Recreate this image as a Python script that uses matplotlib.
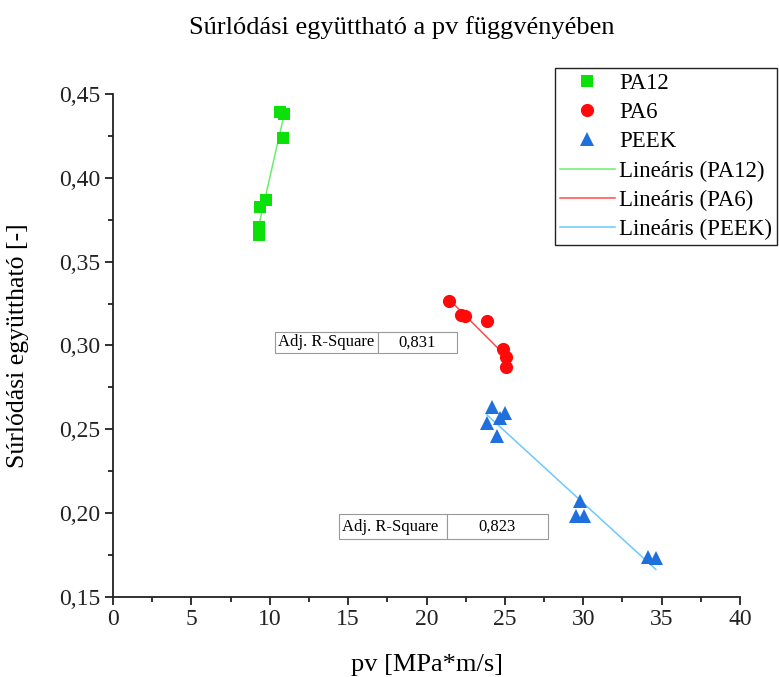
import numpy as np
import matplotlib
matplotlib.use("Agg")
import matplotlib.pyplot as plt
from matplotlib.ticker import FuncFormatter, MultipleLocator

plt.rcParams['font.family'] = ['Liberation Serif', 'DejaVu Serif']

# pv [MPa*m/s] and friction coefficient for each material
pa12_pv = [10.65, 10.91, 10.84, 9.76, 9.38, 9.31, 9.31]
pa12_mu = [0.4393, 0.4381, 0.4238, 0.3869, 0.3827, 0.3708, 0.3661]

pa6_pv = [21.43, 22.19, 22.45, 23.85, 24.87, 25.06, 25.06]
pa6_mu = [0.3268, 0.3179, 0.3173, 0.3143, 0.2976, 0.2929, 0.2869]

peek_pv = [24.17, 25.00, 24.68, 23.85, 24.49, 29.78, 29.53, 30.04, 34.12, 34.63]
peek_mu = [0.2631, 0.2595, 0.2565, 0.2536, 0.2458, 0.2071, 0.1982, 0.1982, 0.1738, 0.1732]

r2_labels = {"PA6": "0,831", "PEEK": "0,823"}

fig = plt.figure(figsize=(7.79, 6.77), dpi=100)
ax = fig.add_axes([0.1451, 0.1182, 0.8049, 0.7430])

series = [
    ("PA12", pa12_pv, pa12_mu, dict(marker="s", color="#0BE00B", ms=8), "#6BEE6B"),
    ("PA6", pa6_pv, pa6_mu, dict(marker="o", color="#FF0A0A", ms=9.5), "#FF4A4A"),
    ("PEEK", peek_pv, peek_mu, dict(marker="^", color="#1F6FDD", ms=10), "#6CC8FF"),
]

marker_handles = []
line_handles = []
for name, xs, ys, mstyle, lcolor in series:
    x = np.array(xs)
    y = np.array(ys)
    h, = ax.plot(x, y, linestyle="none", marker=mstyle["marker"],
                 color=mstyle["color"], markersize=mstyle["ms"],
                 markeredgewidth=0, label=name, zorder=3)
    marker_handles.append(h)
    k, b = np.polyfit(x, y, 1)
    xf = np.array([x.min(), x.max()])
    lh, = ax.plot(xf, k * xf + b, color=lcolor, lw=1.1,
                  label=f"Lineáris ({name})", zorder=2)
    line_handles.append(lh)

ax.set_xlim(0, 40)
ax.set_ylim(0.15, 0.45)
ax.xaxis.set_major_locator(MultipleLocator(5))
ax.xaxis.set_minor_locator(MultipleLocator(2.5))
ax.yaxis.set_major_locator(MultipleLocator(0.05))
ax.yaxis.set_minor_locator(MultipleLocator(0.025))
ax.xaxis.set_major_formatter(FuncFormatter(lambda v, p: f"{v:g}"))
ax.yaxis.set_major_formatter(FuncFormatter(lambda v, p: f"{v:.2f}".replace(".", ",")))

for s in ("top", "right"):
    ax.spines[s].set_visible(False)
for s in ("left", "bottom"):
    ax.spines[s].set_linewidth(1.3)
    ax.spines[s].set_color("#222222")
ax.tick_params(which="major", direction="out", length=6, width=1.3,
               labelsize=17, colors="#222222", pad=3)
ax.tick_params(which="minor", direction="out", length=3.5, width=1.3, colors="#222222")

ax.set_xlabel("pv [MPa*m/s]", fontsize=19, labelpad=17)
ax.set_ylabel("Súrlódási együttható [-]", fontsize=18.5, labelpad=22)
fig.text(402 / 779, 1 - 28 / 677, "Súrlódási együttható a pv függvényében",
         ha="center", va="center", fontsize=19)

leg = fig.legend(handles=marker_handles + line_handles,
                 loc="upper left", bbox_to_anchor=(555 / 779, 1 - 68 / 677),
                 fontsize=16.5, frameon=True, fancybox=False, framealpha=1,
                 edgecolor="#222222", handlelength=2.4, handletextpad=0.2,
                 labelspacing=0.36, borderpad=0.2, borderaxespad=0)
leg.get_frame().set_linewidth(1.0)

# Adjusted R-square boxes
def r2_box(value, bbox, col_split):
    tb = ax.table(cellText=[["Adj. R-Square", value]], bbox=bbox,
                  cellLoc="center", colWidths=[col_split, 1 - col_split])
    tb.auto_set_font_size(False)
    for (r, c), cell in tb.get_celld().items():
        cell.set_edgecolor("#999999")
        cell.set_linewidth(0.8)
        cell.get_text().set_fontsize(12)
        if c == 0:
            cell.get_text().set_ha("left")
            cell.PAD = 0.03
    return tb

r2_box(r2_labels["PA6"], [0.258, 0.485, 0.290, 0.042], 0.566)
r2_box(r2_labels["PEEK"], [0.360, 0.115, 0.333, 0.050], 0.517)

fig.savefig("out.png", dpi=100, facecolor="white")
